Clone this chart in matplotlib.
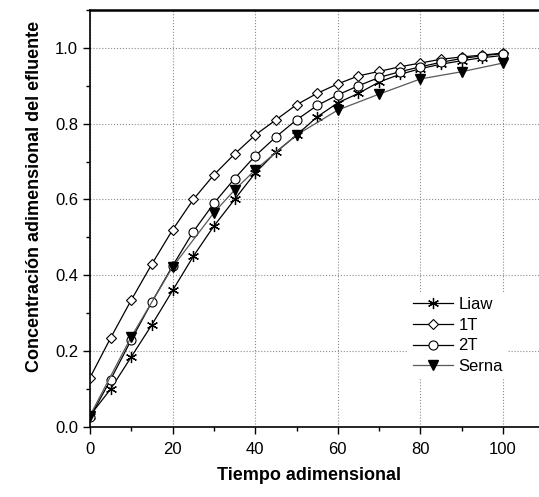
import numpy as np
import matplotlib.pyplot as plt
from matplotlib.ticker import MultipleLocator

plt.rcParams.update({
    "font.family": ["Liberation Sans", "DejaVu Sans"],
    "font.size": 12,
    "axes.linewidth": 1.2,
})

# datos
t = [0, 5, 10, 15, 20, 25, 30, 35, 40, 45, 50, 55, 60, 65, 70, 75, 80, 85, 90, 95, 100]
liaw = [0.03, 0.10, 0.185, 0.27, 0.36, 0.45, 0.53, 0.60, 0.67, 0.725, 0.77, 0.818,
        0.855, 0.88, 0.91, 0.93, 0.945, 0.957, 0.966, 0.974, 0.98]
t1 = [0.13, 0.235, 0.335, 0.43, 0.52, 0.60, 0.665, 0.72, 0.77, 0.81, 0.85, 0.88,
      0.905, 0.926, 0.938, 0.95, 0.96, 0.97, 0.976, 0.981, 0.986]
t2 = [0.025, 0.125, 0.23, 0.33, 0.425, 0.515, 0.59, 0.655, 0.715, 0.765, 0.81, 0.848,
      0.876, 0.90, 0.922, 0.937, 0.95, 0.962, 0.972, 0.979, 0.985]
t_serna = [0, 10, 20, 30, 35, 40, 50, 60, 70, 80, 90, 100]
serna = [0.03, 0.238, 0.422, 0.565, 0.625, 0.678, 0.77, 0.836, 0.878, 0.918, 0.937, 0.96]

fig = plt.figure(figsize=(5.39, 4.97), dpi=100)
ax = fig.add_axes([0.167, 0.141, 0.833, 0.839])

ax.plot(t, liaw, color='k', lw=0.9, marker=(6, 2, 0), ms=8, mew=0.9, label='Liaw')
ax.plot(t, t1, color='k', lw=0.9, marker='D', ms=5.5, mfc='white', mew=0.8, label='1T')
ax.plot(t, t2, color='k', lw=0.9, marker='o', ms=6.5, mfc='white', mew=0.8, label='2T')
ax.plot(t_serna, serna, color='0.35', lw=0.9, marker='v', ms=7.5, mfc='k', mec='k', label='Serna')

ax.set_xlim(0, 108.7)
ax.set_ylim(0, 1.1)
ax.xaxis.set_major_locator(MultipleLocator(20))
ax.xaxis.set_minor_locator(MultipleLocator(10))
ax.yaxis.set_major_locator(MultipleLocator(0.2))
ax.yaxis.set_minor_locator(MultipleLocator(0.1))
ax.yaxis.set_major_formatter(plt.FormatStrFormatter('%.1f'))
ax.tick_params(which='major', direction='out', length=5, width=1.0, labelsize=12)
ax.tick_params(axis='x', which='major', pad=6)
ax.tick_params(which='minor', direction='out', length=3, width=1.0)
ax.spines['right'].set_visible(False)
ax.spines['top'].set_linewidth(1.8)
ax.grid(True, which='major', linestyle=':', color='0.55', linewidth=0.8)

ax.set_xlabel('Tiempo adimensional', fontsize=13, fontweight='bold')
ax.set_ylabel('Concentración adimensional del efluente', fontsize=13, fontweight='bold')
ax.xaxis.set_label_coords(0.488, -0.096)
ax.yaxis.set_label_coords(-0.105, 0.552)

leg = ax.legend(loc='center', bbox_to_anchor=(0.850, 0.325), bbox_transform=fig.transFigure,
                frameon=True, fancybox=False, edgecolor='none', facecolor='white', framealpha=1,
                handlelength=2.4, handletextpad=0.3, labelspacing=0.35, fontsize=12,
                borderpad=0.3)

fig.savefig('out.png', dpi=100)
